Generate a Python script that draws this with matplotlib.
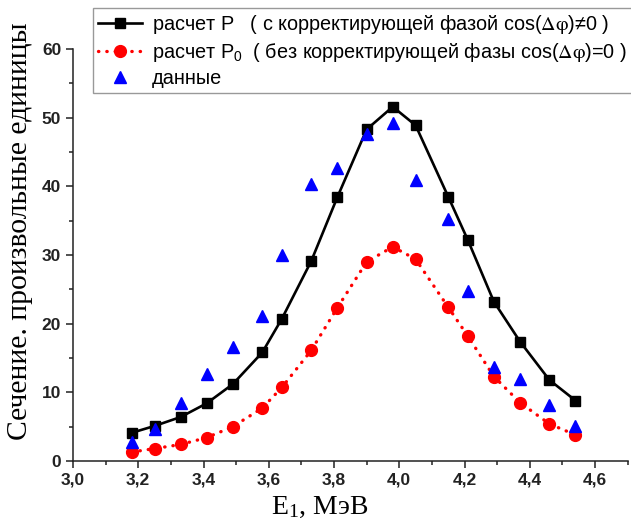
import matplotlib
matplotlib.use('Agg')
import matplotlib.pyplot as plt
from matplotlib.ticker import MultipleLocator, FormatStrFormatter

plt.rcParams['font.family'] = ['Liberation Sans', 'DejaVu Sans']
plt.rcParams['mathtext.fontset'] = 'stix'

# energies, MeV
E = [3.18, 3.25, 3.33, 3.41, 3.49, 3.58, 3.64, 3.73, 3.81,
     3.90, 3.98, 4.05, 4.15, 4.21, 4.29, 4.37, 4.46, 4.54]
# calculation P (with correcting phase)
P = [4.1, 5.1, 6.4, 8.4, 11.2, 15.8, 20.7, 29.1, 38.4,
     48.3, 51.6, 48.9, 38.5, 32.2, 23.2, 17.4, 11.8, 8.8]
# calculation P0 (no correcting phase)
P0 = [1.3, 1.8, 2.4, 3.4, 5.0, 7.7, 10.7, 16.1, 22.3,
      29.0, 31.2, 29.4, 22.4, 18.2, 12.3, 8.5, 5.4, 3.8]
# measured data
data = [2.8, 4.6, 8.5, 12.6, 16.6, 21.1, 30.0, 40.4, 42.7,
        47.6, 49.3, 41.0, 35.2, 24.8, 13.7, 12.0, 8.2, 5.1]

fig = plt.figure(figsize=(6.31, 5.28), dpi=100)
ax = fig.add_axes([0.1157, 0.127, 0.879, 0.780])

ax.plot(E, P, color='black', lw=1.9, marker='s', ms=6.5,
        label='расчет P   ( с корректирующей фазой cos($\\mathrm{\\Delta\\varphi}$)≠0 )')
ax.plot(E, P0, color='red', lw=2.4, linestyle=(0, (0.1, 2.4)),
        dash_capstyle='round', marker='o', ms=8.5,
        label='расчет P$\\mathregular{_0}$  ( без корректирующей фазы cos($\\mathrm{\\Delta\\varphi}$)=0 )')
ax.plot(E, data, linestyle='none', color='blue', marker='^', ms=8,
        label='данные')

ax.set_xlim(3.0, 4.7)
ax.set_ylim(0, 60)
ax.xaxis.set_major_locator(MultipleLocator(0.2))
ax.xaxis.set_minor_locator(MultipleLocator(0.1))
ax.yaxis.set_major_locator(MultipleLocator(10))
ax.yaxis.set_minor_locator(MultipleLocator(5))
ax.xaxis.set_major_formatter(FormatStrFormatter('%.1f'))
ax.set_xticklabels([f'{v:.1f}'.replace('.', ',') for v in ax.get_xticks()])

for s in ['top', 'right']:
    ax.spines[s].set_visible(False)
for s in ['left', 'bottom']:
    ax.spines[s].set_linewidth(1.1)
    ax.spines[s].set_color('#222222')
ax.tick_params(which='major', direction='out', length=5, width=1.1, labelsize=12.5, colors='#222222')
ax.tick_params(which='minor', direction='out', length=3, width=1.1, colors='#222222')
for lab in ax.get_xticklabels() + ax.get_yticklabels():
    lab.set_fontweight('bold')

ax.set_xlabel('E$\\mathregular{_1}$, МэВ', family='Liberation Serif', fontsize=20)
ax.set_ylabel('Сечение. произвольные единицы', family='Liberation Serif', fontsize=21.3)
ax.xaxis.set_label_coords(0.445, -0.083)
ax.yaxis.set_label_coords(-0.073, 0.558)

fig.legend(loc='upper left', bbox_to_anchor=(0.148, 0.985), fontsize=14.3,
           frameon=True, fancybox=False, edgecolor='#999999', framealpha=1,
           numpoints=1, handlelength=2.2, handletextpad=0.5, labelspacing=0.25,
           borderaxespad=0, borderpad=0.25)

fig.savefig('out.png', dpi=100)
